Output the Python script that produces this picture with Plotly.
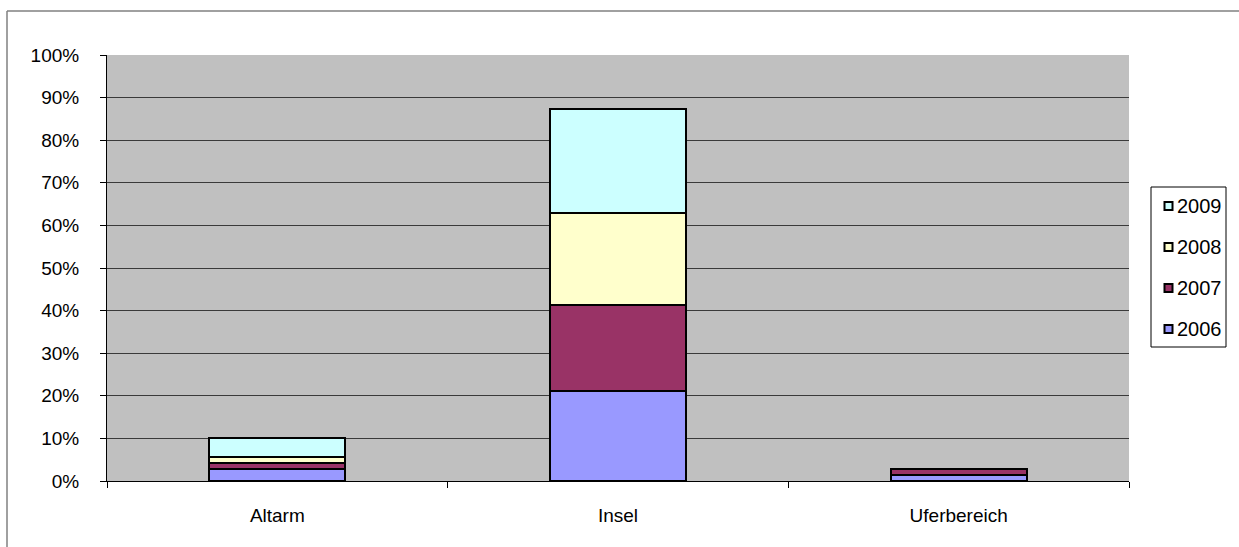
import plotly.graph_objects as go

# Share of records per habitat and year (percent of total)
categories = ["Altarm", "Insel", "Uferbereich"]
years = ["2006", "2007", "2008", "2009"]
share_2006 = [2.9, 21.1, 1.3]
share_2007 = [1.4, 20.2, 1.5]
share_2008 = [1.4, 21.6, 0.0]
share_2009 = [4.4, 24.4, 0.0]
y_ticks = [0, 10, 20, 30, 40, 50, 60, 70, 80, 90, 100]

series = [share_2006, share_2007, share_2008, share_2009]
colors = ["#9999FF", "#993366", "#FFFFCC", "#CCFFFF"]

W, H = 1239, 547
L, R, T, B = 107, 110, 55, 66
PW, PH = W - L - R, H - T - B


def px_x(p):
    return (p - L) / PW


def px_y(p):
    return (H - B - p) / PH


FONT = "Liberation Sans, Arial, sans-serif"

fig = go.Figure()
for name, vals, col in zip(years, series, colors):
    fig.add_trace(go.Bar(
        x=categories, y=vals, name=name,
        marker=dict(color=col, line=dict(color="#000000", width=2)),
        showlegend=False,
    ))

frame = dict(color="#808080", width=1.5)
shapes = [
    # outer chart frame: top and left edges (the rest lies outside the page)
    dict(type="line", xref="paper", yref="paper",
         x0=px_x(7), x1=px_x(W), y0=px_y(11), y1=px_y(11), line=frame),
    dict(type="line", xref="paper", yref="paper",
         x0=px_x(7), x1=px_x(7), y0=px_y(11), y1=px_y(H), line=frame),
    # legend frame
    dict(type="rect", xref="paper", yref="paper",
         x0=px_x(1151), x1=px_x(1226), y0=px_y(347), y1=px_y(187),
         line=dict(color="#000000", width=1), fillcolor="white"),
]
annotations = []

# legend, newest year on top
for i, (name, col) in enumerate(reversed(list(zip(years, colors)))):
    cy = 206 + 41 * i
    shapes.append(dict(type="rect", xref="paper", yref="paper",
                       x0=px_x(1164.5), x1=px_x(1172.5),
                       y0=px_y(cy + 4), y1=px_y(cy - 4),
                       fillcolor=col, line=dict(color="#000000", width=2)))
    annotations.append(dict(xref="paper", yref="paper", x=px_x(1175),
                            y=px_y(cy), text=name, showarrow=False,
                            xanchor="left", yanchor="middle",
                            font=dict(family=FONT, size=20, color="#000000")))

fig.update_layout(
    width=W, height=H,
    margin=dict(l=L, r=R, t=T, b=B, pad=0),
    barmode="stack", bargap=0.6,
    paper_bgcolor="white", plot_bgcolor="#C0C0C0",
    font=dict(family=FONT, size=19, color="#000000"),
    shapes=shapes, annotations=annotations,
    showlegend=False,
)
fig.update_xaxes(
    showline=True, linecolor="#000000", linewidth=1,
    ticks="outside", tickson="boundaries", ticklen=6, tickcolor="#000000",
    showgrid=False, ticklabelstandoff=17,
)
fig.update_yaxes(
    range=[0, 100], tickvals=y_ticks, ticktext=[f"{v}%" for v in y_ticks],
    showline=True, linecolor="#000000", linewidth=1,
    ticks="outside", ticklen=6, tickcolor="#000000",
    showgrid=True, gridcolor="#3a3a3a", gridwidth=1,
    zeroline=False, ticklabelstandoff=17,
)

fig.write_html("out.html")
